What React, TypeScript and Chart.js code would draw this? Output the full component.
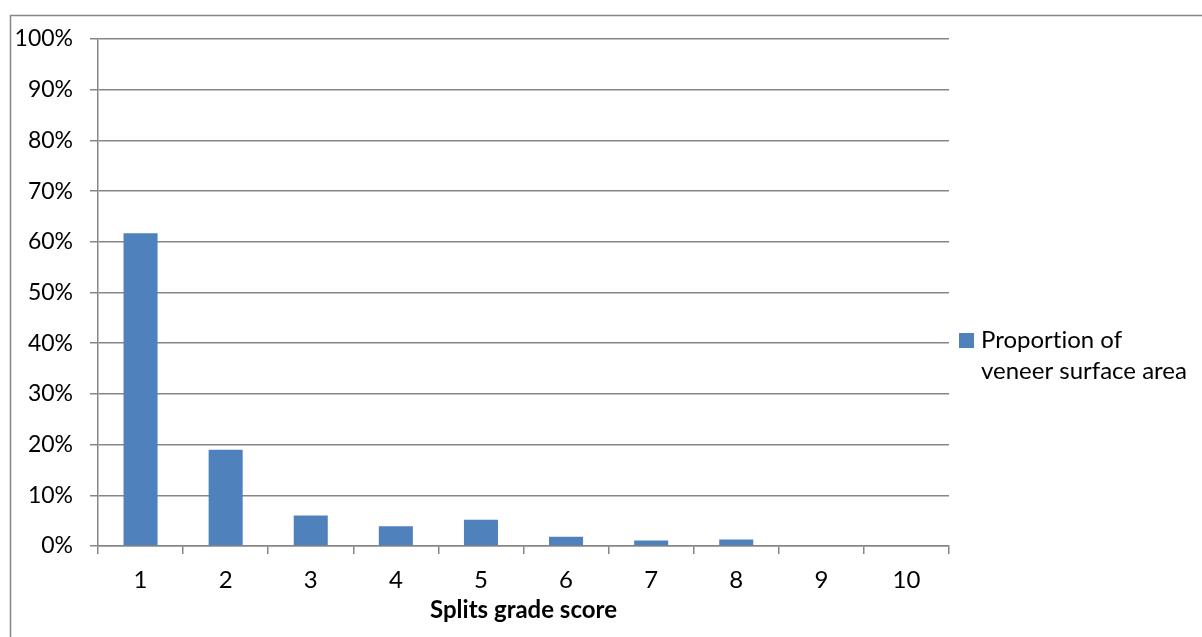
import React, { useEffect, useRef } from "react";
import { Chart, registerables } from "chart.js";

Chart.register(...registerables);

const categories = ["1", "2", "3", "4", "5", "6", "7", "8", "9", "10"];
const proportionValues = [61.7, 19.0, 6.0, 3.9, 5.2, 1.8, 1.1, 1.3, 0.15, 0.15];
const seriesLabel = ["Proportion of", "veneer surface area"];
const yTicks = [0, 10, 20, 30, 40, 50, 60, 70, 80, 90, 100];
const xTitle = "Splits grade score";

const FONT = "Lato, 'Open Sans', sans-serif";
const GRID = "#868686";
const BAR = "#4f81bd";

// outer frame plus a two-line legend to the right of the plot
const framePlugin = {
  id: "frameAndLegend",
  beforeDraw(chart: any) {
    const { ctx } = chart;
    ctx.save();
    ctx.fillStyle = "#ffffff";
    ctx.fillRect(0, 0, chart.width, chart.height);
    ctx.strokeStyle = GRID;
    ctx.lineWidth = 1.5;
    ctx.strokeRect(10.5, 15.5, chart.width + 20, chart.height + 20);
    ctx.restore();
  },
  afterDraw(chart: any) {
    const { ctx, chartArea } = chart;
    const x = chartArea.right + 10;
    const y = 340;
    ctx.save();
    ctx.fillStyle = BAR;
    ctx.fillRect(x, y - 7, 15, 15);
    ctx.fillStyle = "#000";
    ctx.font = `24px ${FONT}`;
    ctx.textBaseline = "middle";
    ctx.textAlign = "left";
    (ctx as any).textRendering = "optimizeSpeed";
    seriesLabel.forEach((line, i) => {
      ctx.fillText(line, x + 22, y + i * 31);
    });
    ctx.restore();
  },
};

export default function App() {
  const ref = useRef<HTMLCanvasElement>(null);

  useEffect(() => {
    if (!ref.current) return;
    const chart = new Chart(ref.current, {
      type: "bar",
      data: {
        labels: categories,
        datasets: [
          {
            label: seriesLabel.join(" "),
            data: proportionValues,
            backgroundColor: BAR,
            borderWidth: 0,
            barPercentage: 0.4,
            categoryPercentage: 1,
          },
        ],
      },
      options: {
        animation: false,
        responsive: false,
        devicePixelRatio: 1,
        layout: { padding: { left: 10, right: 253, top: 39, bottom: 0 } },
        plugins: {
          legend: { display: false },
          tooltip: { enabled: false },
        },
        scales: {
          x: {
            afterFit: (scale: any) => {
              scale.height = 91;
            },
            border: { color: GRID, width: 1.5 },
            grid: {
              offset: true,
              drawOnChartArea: false,
              drawTicks: true,
              tickLength: 8,
              color: GRID,
              lineWidth: 1.5,
            },
            ticks: {
              color: "#000",
              font: { family: FONT, size: 24 },
              padding: 12,
              maxRotation: 0,
            },
            title: {
              display: true,
              text: xTitle,
              color: "#000",
              font: { family: FONT, size: 24, weight: "bold" },
              padding: { top: 0, bottom: 12 },
            },
          },
          y: {
            min: 0,
            max: 100,
            afterFit: (scale: any) => {
              scale.width = 88;
            },
            afterBuildTicks: (scale: any) => {
              scale.ticks = yTicks.map((v) => ({ value: v }));
            },
            border: { color: GRID, width: 1.5 },
            grid: {
              color: GRID,
              lineWidth: 1.5,
              tickLength: 8,
            },
            ticks: {
              color: "#000",
              font: { family: FONT, size: 23 },
              padding: 17,
              callback: (v: any) => `${v}%`,
            },
          },
        },
      },
      plugins: [framePlugin],
    });
    return () => chart.destroy();
  }, []);

  return (
    <div style={{ position: "fixed", left: 0, top: 0, width: 1202, height: 637, overflow: "hidden" }}>
      <canvas ref={ref} width={1202} height={637} style={{ display: "block" }} />
    </div>
  );
}
